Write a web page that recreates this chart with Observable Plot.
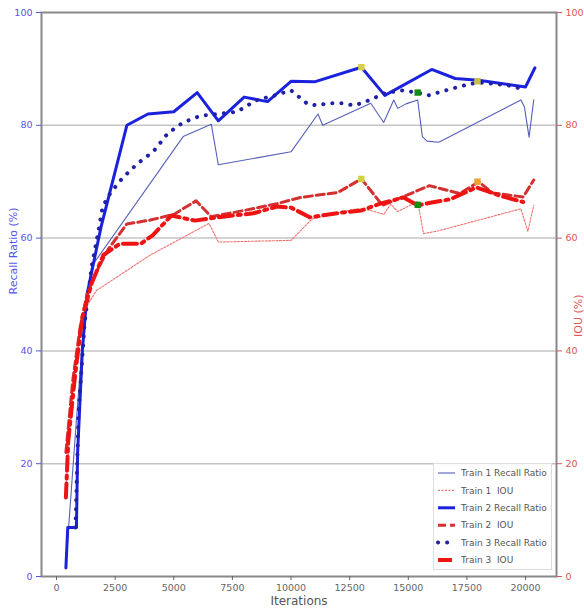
<!DOCTYPE html>
<html>
<head>
<meta charset="utf-8">
<script src="https://cdn.jsdelivr.net/npm/d3@7"></script>
<script src="https://cdn.jsdelivr.net/npm/@observablehq/plot@0.6"></script>
<style>
  html, body { margin: 0; padding: 0; background: #fff; }
  #wrap { position: relative; width: 584px; height: 611px; }
  #legend { position: absolute; left: 433px; top: 463px; }
</style>
</head>
<body>
<div id="wrap"></div>
<script>
// ---- data ----
const seriesNames = ["Train 1 Recall Ratio", "Train 1  IOU", "Train 2 Recall Ratio", "Train 2  IOU", "Train 3 Recall Ratio", "Train 3  IOU"];
const xTicks = [0, 2500, 5000, 7500, 10000, 12500, 15000, 17500, 20000];
const yTicks = [0, 20, 40, 60, 80, 100];

const train1Recall = [[400,2],[800,25],[1200,47],[1500,55],[5400,78],[6600,80.2],[6900,73],[10000,75.3],[11150,82],[11350,80],[13400,83.9],[13950,80.5],[14380,84.5],[14550,83],[14900,83.8],[15400,84.5],[15600,78],[15800,77.2],[16300,77],[19800,84.5],[19950,83.3],[20150,77.9],[20350,84.5]];
const train1IOU = [[400,16],[700,33],[1000,43],[1300,48],[1700,50.7],[4000,57],[6500,62.6],[6900,59.3],[10000,59.6],[10900,63.4],[12800,65.2],[13400,64.9],[13950,64.2],[14250,66],[14550,64.7],[15400,66.5],[15650,60.8],[16300,61.3],[19800,65.2],[20100,61.2],[20350,65.8]];
const train2Recall = [[400,1.5],[480,8.7],[850,8.7],[900,22],[1100,40],[1300,50],[1900,62],[3000,80],[3900,82],[5000,82.4],[6000,85.8],[6900,80.8],[8000,85],[9000,84.2],[10000,87.8],[11000,87.7],[13000,90.3],[14000,85.3],[16000,89.9],[17000,88.3],[18000,88],[20000,86.8],[20400,90.2]];
const train2IOU = [[400,22],[700,35],[1000,44],[1300,50],[1700,54],[2200,58],[3000,62.5],[4000,63.2],[5000,64.2],[5950,66.6],[6600,63.8],[8000,64.9],[9400,66.1],[10400,67.2],[12000,68.1],[13000,70.5],[13900,65.8],[15900,69.3],[17200,67.9],[18000,70],[18600,68],[19900,67.3],[20350,70.3]];
const train3Recall = [[810,8.7],[940,29],[1200,45],[1500,55],[1790,61.3],[1970,65.6],[2300,68],[2800,70.6],[3450,73.2],[4140,75.4],[4730,78.5],[5400,80.5],[6140,81.7],[6900,82],[7700,82.4],[8500,84.4],[9300,85.3],[10000,86.2],[10350,85],[10700,83.8],[11150,83.5],[11550,83.9],[12250,83.9],[12700,83.5],[13500,84.7],[13900,85.6],[14700,86.2],[15400,85.8],[15850,85.3],[16600,86.2],[17400,87.1],[17950,87.6],[18500,87.4],[19250,87.1],[19800,86.5]];
const train3IOU = [[400,14],[500,24],[800,36],[1100,46],[1500,52],[2000,57],[2700,59],[3600,59],[4100,60.5],[4900,64],[5900,63.1],[6900,63.7],[8400,64.4],[9400,65.6],[10000,65.4],[10800,63.7],[12100,64.5],[13000,64.9],[13800,66.1],[14800,67.2],[15400,65.8],[16000,66.3],[16800,66.9],[17900,69],[19000,67.4],[19900,66.4]];

const markers = [[13000,90.3,"#d8d040"],[17950,87.8,"#c8c040"],[15400,85.8,"#109010"],[13000,70.5,"#d0d040"],[15400,65.9,"#109010"],[17950,70,"#f0a030"]];

// ---- styles ----
const styles = [
  {stroke:"#5560b8", strokeWidth:1.1},
  {stroke:"#f07070", strokeWidth:1.1, strokeDasharray:"2 1.5"},
  {stroke:"#1a22dd", strokeWidth:3},
  {stroke:"#d43030", strokeWidth:3, strokeDasharray:"8 4"},
  {stroke:"#2020a8", strokeWidth:4, strokeDasharray:"0.1 9", strokeLinecap:"round"},
  {stroke:"#ee1414", strokeWidth:4, strokeDasharray:"14 5 3 5"}
];
const datasets = [train1Recall, train1IOU, train2Recall, train2IOU, train3Recall, train3IOU];

const font = "DejaVu Sans, sans-serif";
const lineMarks = datasets.map((d, i) => Plot.line(d, {x: p => p[0], y: p => p[1], ...styles[i]}));

const chart = Plot.plot({
  width: 584,
  height: 611,
  marginLeft: 41,
  marginRight: 28,
  marginTop: 12,
  marginBottom: 35,
  style: {fontFamily: font, fontSize: "9.5px", background: "#fff"},
  x: {domain: [-640, 21320]},
  y: {domain: [0, 100]},
  marks: [
    Plot.gridY([20, 40, 60, 80], {stroke: "#c4c4c4", strokeOpacity: 1, strokeWidth: 1.5}),
    ...lineMarks,
    Plot.dot(markers, {x: d => d[0], y: d => d[1], fill: d => d[2], symbol: "square", r: 3.6}),
    Plot.frame({stroke: "#888", strokeWidth: 2}),
    Plot.axisX({ticks: xTicks, tickSize: 4, tickFormat: d => String(d), color: "#666", label: null, tickPadding: 4}),
    Plot.axisY({anchor: "left", ticks: yTicks, tickSize: 5, tickFormat: d => String(d), color: "#5555ee", label: null}),
    Plot.axisY({anchor: "right", ticks: yTicks, tickSize: 5, tickFormat: d => String(d), color: "#e05555", label: null}),
    Plot.text(["Iterations"], {frameAnchor: "bottom", dy: 28, fill: "#555", fontSize: 12}),
    Plot.text(["Recall Ratio (%)"], {frameAnchor: "left", dx: -28, rotate: -90, fill: "#5555ee", fontSize: 11}),
    Plot.text(["IOU (%)"], {frameAnchor: "right", dx: 22, rotate: -90, fill: "#e05555", fontSize: 11})
  ]
});
document.getElementById("wrap").appendChild(chart);

// ---- legend ----
const lw = 119, lh = 107;
const leg = d3.select("#wrap").append("svg").attr("id", "legend").attr("width", lw).attr("height", lh);
leg.append("rect").attr("x", 0.5).attr("y", 0.5).attr("width", lw - 1).attr("height", lh - 1)
  .attr("fill", "#fff").attr("fill-opacity", 0.9).attr("stroke", "#ddd");
seriesNames.forEach((name, i) => {
  const y = 10 + i * 17.4;
  const s = styles[i];
  leg.append("line").attr("x1", 5).attr("x2", 22).attr("y1", y).attr("y2", y)
    .attr("stroke", s.stroke).attr("stroke-width", s.strokeWidth)
    .attr("stroke-dasharray", s.strokeDasharray || null)
    .attr("stroke-linecap", s.strokeLinecap || null);
  leg.append("text").attr("x", 28).attr("y", y).attr("dy", "0.35em")
    .attr("font-family", font).attr("font-size", 9).attr("fill", "#555")
    .style("white-space", "pre").text(name);
});
</script>
</body>
</html>
